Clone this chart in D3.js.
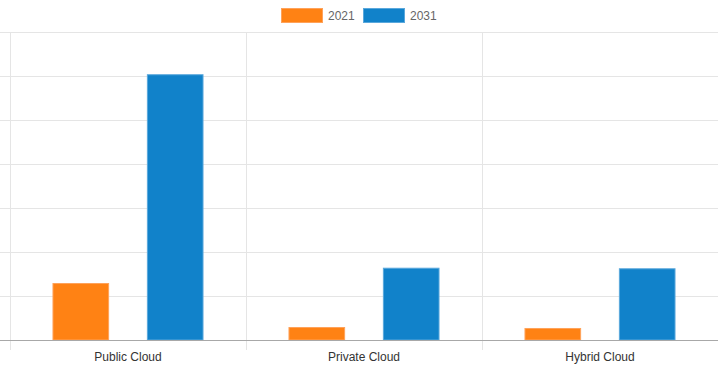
<html lang="en">
<head>
    <meta charset="utf-8" />
    <title>Cloud market 2021 vs 2031</title>
    <style>
        body, html {
            margin: 0;
            padding: 0;
            background: #fff;
            font-family: "Liberation Sans", Arial, sans-serif;
            overflow: hidden;
        }
        .grid line { stroke: #e5e5e5; shape-rendering: crispEdges; }
        .legend text, .xlab text { font-size: 12px; }
    </style>
    <script src="https://d3js.org/d3.v7.min.js"></script>
</head>
<body>
    <div id="chart"></div>
    <script>
        // values (no axis labels shown, units guessed)
        const categories = ["Public Cloud", "Private Cloud", "Hybrid Cloud"];
        const seriesNames = ["2021", "2031"];
        const values2021 = [129.5, 29.5, 27.3];
        const values2031 = [604, 164.3, 163];
        const yTicks = [0, 100, 200, 300, 400, 500, 600, 700];

        const colors = { "2021": "#ff8214", "2031": "#1182ca" };
        const borders = { "2021": "#ffa25a", "2031": "#5aa8dc" };

        const width = 720, height = 371;
        const plot = { left: 10, right: 718, top: 32, bottom: 340 };

        const svg = d3.select("#chart").append("svg")
            .attr("width", width)
            .attr("height", height);

        const x = d3.scaleBand().domain(categories).range([plot.left, plot.right]);
        const x1 = d3.scaleBand().domain(seriesNames)
            .range([x.bandwidth() * 0.1, x.bandwidth() * 0.9]);
        const y = d3.scaleLinear().domain([0, 700]).range([plot.bottom, plot.top]);

        // horizontal grid
        svg.append("g").attr("class", "grid")
            .selectAll("line")
            .data(yTicks.filter(d => d > 0))
            .enter().append("line")
            .attr("x1", 0).attr("x2", plot.right)
            .attr("y1", d => Math.round(y(d)) + 0.5)
            .attr("y2", d => Math.round(y(d)) + 0.5);

        // vertical grid (axis line + category boundaries)
        const vLines = [plot.left].concat(categories.slice(1).map(c => x(c)));
        svg.append("g").attr("class", "grid")
            .selectAll("line")
            .data(vLines)
            .enter().append("line")
            .attr("x1", d => Math.round(d) + 0.5).attr("x2", d => Math.round(d) + 0.5)
            .attr("y1", plot.top).attr("y2", plot.bottom + 10);

        // bars
        const rows = categories.map((c, i) => ({
            cat: c,
            vals: [{ key: "2021", v: values2021[i] }, { key: "2031", v: values2031[i] }]
        }));

        const barW = x1.bandwidth() * 0.6;
        svg.append("g").selectAll("g")
            .data(rows)
            .enter().append("g")
            .attr("transform", d => "translate(" + x(d.cat) + ",0)")
            .selectAll("rect")
            .data(d => d.vals)
            .enter().append("rect")
            .attr("x", d => x1(d.key) + (x1.bandwidth() - barW) / 2 + 0.5)
            .attr("y", d => y(d.v) + 0.5)
            .attr("width", barW - 1)
            .attr("height", d => plot.bottom - y(d.v) - 0.5)
            .attr("fill", d => colors[d.key])
            .attr("stroke", d => borders[d.key])
            .attr("stroke-width", 1);

        // baseline
        svg.append("line")
            .attr("x1", 0).attr("x2", plot.right)
            .attr("y1", plot.bottom + 0.5).attr("y2", plot.bottom + 0.5)
            .attr("stroke", "#a8a8a8")
            .attr("shape-rendering", "crispEdges");

        // x labels
        svg.append("g").attr("class", "xlab")
            .selectAll("text")
            .data(categories)
            .enter().append("text")
            .attr("x", d => x(d) + x.bandwidth() / 2)
            .attr("y", 361)
            .attr("text-anchor", "middle")
            .attr("fill", "#333")
            .text(d => d);

        // legend
        const legend = svg.append("g").attr("class", "legend");
        const legendX = [281, 363];
        seriesNames.forEach((s, i) => {
            legend.append("rect")
                .attr("x", legendX[i] + 0.5).attr("y", 8.5)
                .attr("width", 41).attr("height", 14)
                .attr("fill", colors[s])
                .attr("stroke", borders[s]);
            legend.append("text")
                .attr("x", legendX[i] + 47).attr("y", 20)
                .attr("fill", "#666")
                .text(s);
        });
    </script>
</body>
</html>
